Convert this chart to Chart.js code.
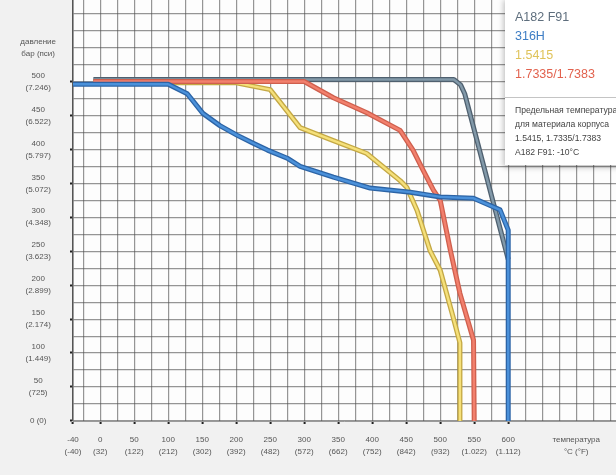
<!DOCTYPE html>
<html>
<head>
<meta charset="utf-8">
<script src="https://cdn.jsdelivr.net/npm/chart.js@4"></script>
<style>
  html, body { margin: 0; padding: 0; background: #f1f1f1; }
  #wrap { position: relative; width: 616px; height: 475px; overflow: hidden; font-family: "Liberation Sans", Arial, sans-serif; }
  #box { position: absolute; left: 505px; top: -2px; width: 130px; height: 167px; background: #fff;
         box-shadow: -1px 2px 6px rgba(0,0,0,0.28); }
  #box .s { position: absolute; left: 10px; font-size: 12.5px; line-height: 14px; white-space: nowrap; }
  #box .sep { position: absolute; left: 0; right: 0; top: 99px; border-top: 1px solid #c4c4c4; }
  #box .note { position: absolute; left: 10px; top: 105px; font-size: 8.6px; line-height: 14px; color: #444; white-space: nowrap; }
</style>
</head>
<body>
<div id="wrap">
  <canvas id="chart" width="616" height="475"></canvas>
  <div id="box">
    <div class="s" style="top:12px;color:#5e6e7d">A182 F91</div>
    <div class="s" style="top:31px;color:#3d7dc4">316H</div>
    <div class="s" style="top:50px;color:#dfc35a">1.5415</div>
    <div class="s" style="top:69px;color:#e2624e">1.7335/1.7383</div>
    <div class="sep"></div>
    <div class="note">Предельная температура<br>для материала корпуса<br>1.5415, 1.7335/1.7383<br>A182 F91: -10°C</div>
  </div>
</div>
<script>
// temperature axis (°C) and its labels
const tempTicks = [-40, 0, 50, 100, 150, 200, 250, 300, 350, 400, 450, 500, 550, 600];
const tempLabels = [['-40', '(-40)'], ['0', '(32)'], ['50', '(122)'], ['100', '(212)'], ['150', '(302)'],
  ['200', '(392)'], ['250', '(482)'], ['300', '(572)'], ['350', '(662)'], ['400', '(752)'],
  ['450', '(842)'], ['500', '(932)'], ['550', '(1.022)'], ['600', '(1.112)']];
const tempTitleAt = 700;
const tempTitle = ['температура', '°C (°F)'];

// pressure axis (bar) and its labels
const pressTicks = [0, 50, 100, 150, 200, 250, 300, 350, 400, 450, 500];
const pressLabels = [['0 (0)'], ['50', '(725)'], ['100', '(1.449)'], ['150', '(2.174)'], ['200', '(2.899)'],
  ['250', '(3.623)'], ['300', '(4.348)'], ['350', '(5.072)'], ['400', '(5.797)'], ['450', '(6.522)'], ['500', '(7.246)']];
const pressTitleAt = 550;
const pressTitle = ['давление', 'бар (пси)'];

// series: [temperature, pressure]
const a182f91 = [[-10, 503], [520, 503], [530, 495], [536, 482], [600, 238]];
const s316h = [[-40, 496], [100, 496], [128, 482], [151, 453], [176, 435], [201, 421], [225, 409], [246, 399],
  [275, 387], [294, 375], [343, 359], [397, 343], [456, 337], [500, 330], [549, 328], [588, 311], [600, 281], [600, 0]];
const s15415 = [[-10, 498], [200, 498], [250, 488], [294, 432], [343, 413], [392, 394], [441, 354], [451, 344],
  [466, 310], [485, 251], [500, 222], [519, 153], [529, 115], [529, 0]];
const s17335 = [[-10, 500], [300, 500], [343, 476], [392, 454], [441, 428], [460, 399], [475, 369], [490, 340],
  [500, 325], [515, 251], [529, 188], [549, 119], [550, 0]];

const toPts = arr => arr.map(p => ({ x: p[0], y: p[1] }));

// each curve = dark outline underneath + lighter core on top
function curve(data, core, edge, order) {
  return [
    { data: toPts(data), borderColor: core, borderWidth: 2.4, pointRadius: 0, tension: 0, borderJoinStyle: 'round', order: order },
    { data: toPts(data), borderColor: edge, borderWidth: 5, pointRadius: 0, tension: 0, borderJoinStyle: 'round', order: order + 1 }
  ];
}

const bgPlugin = {
  id: 'bg',
  beforeDraw(chart) {
    const c = chart.ctx, a = chart.chartArea;
    c.save();
    c.fillStyle = '#f1f1f1';
    c.fillRect(0, 0, chart.width, chart.height);
    c.fillStyle = '#fdfdfd';
    c.fillRect(a.left, a.top, a.right - a.left, a.bottom - a.top);
    c.restore();
  }
};

const gridX = [-40];
for (let v = -25; v <= 750; v += 25) gridX.push(v);
const gridY = [];
for (let v = 0; v <= 600; v += 25) gridY.push(v);

function xLabel(v) {
  const i = tempTicks.indexOf(v);
  if (i >= 0) return tempLabels[i];
  if (v === tempTitleAt) return tempTitle;
  return '';
}
function yLabel(v) {
  const i = pressTicks.indexOf(v);
  if (i >= 0) return pressLabels[i];
  if (v === pressTitleAt) return pressTitle;
  return '';
}

new Chart(document.getElementById('chart'), {
  type: 'line',
  data: {
    datasets: [
      ...curve(s316h, '#4b91da', '#2c64a6', 0),
      ...curve(s17335, '#f2806d', '#cf5f4d', 2),
      ...curve(s15415, '#f5e07a', '#c4a844', 4),
      ...curve(a182f91, '#8299a9', '#4f606f', 6)
    ]
  },
  options: {
    responsive: false,
    animation: false,
    layout: { padding: 0 },
    plugins: { legend: { display: false }, tooltip: { enabled: false } },
    scales: {
      x: {
        type: 'linear', min: -40, max: 758.5,
        afterBuildTicks: s => { s.ticks = gridX.map(v => ({ value: v })); },
        afterFit: s => { s.height = 54; s.paddingLeft = 0; s.paddingRight = 0; },
        ticks: {
          autoSkip: false, maxRotation: 0, padding: 10, color: '#555',
          font: { family: 'Liberation Sans', size: 8, lineHeight: 1.5 },
          callback: v => xLabel(v)
        },
        grid: {
          color: 'rgba(80,80,80,0.6)', lineWidth: 1.2, tickLength: 3, tickWidth: 2,
          tickColor: c => (tempTicks.includes(c.tick.value) ? '#222' : 'rgba(0,0,0,0)')
        },
        border: { color: '#9a9a9a', width: 1 }
      },
      y: {
        type: 'linear', min: 0, max: 620,
        afterBuildTicks: s => { s.ticks = gridY.map(v => ({ value: v })); },
        afterFit: s => { s.width = 73; s.paddingTop = 0; s.paddingBottom = 0; },
        ticks: {
          autoSkip: false, crossAlign: 'center', padding: 14, color: '#555',
          font: { family: 'Liberation Sans', size: 8, lineHeight: 1.5 },
          callback: v => yLabel(v)
        },
        grid: {
          color: 'rgba(80,80,80,0.6)', lineWidth: 1.2, tickLength: 3, tickWidth: 2,
          tickColor: c => (pressTicks.includes(c.tick.value) ? '#222' : 'rgba(0,0,0,0)')
        },
        border: { color: '#555', width: 1.5 }
      }
    }
  },
  plugins: [bgPlugin]
});
</script>
</body>
</html>
